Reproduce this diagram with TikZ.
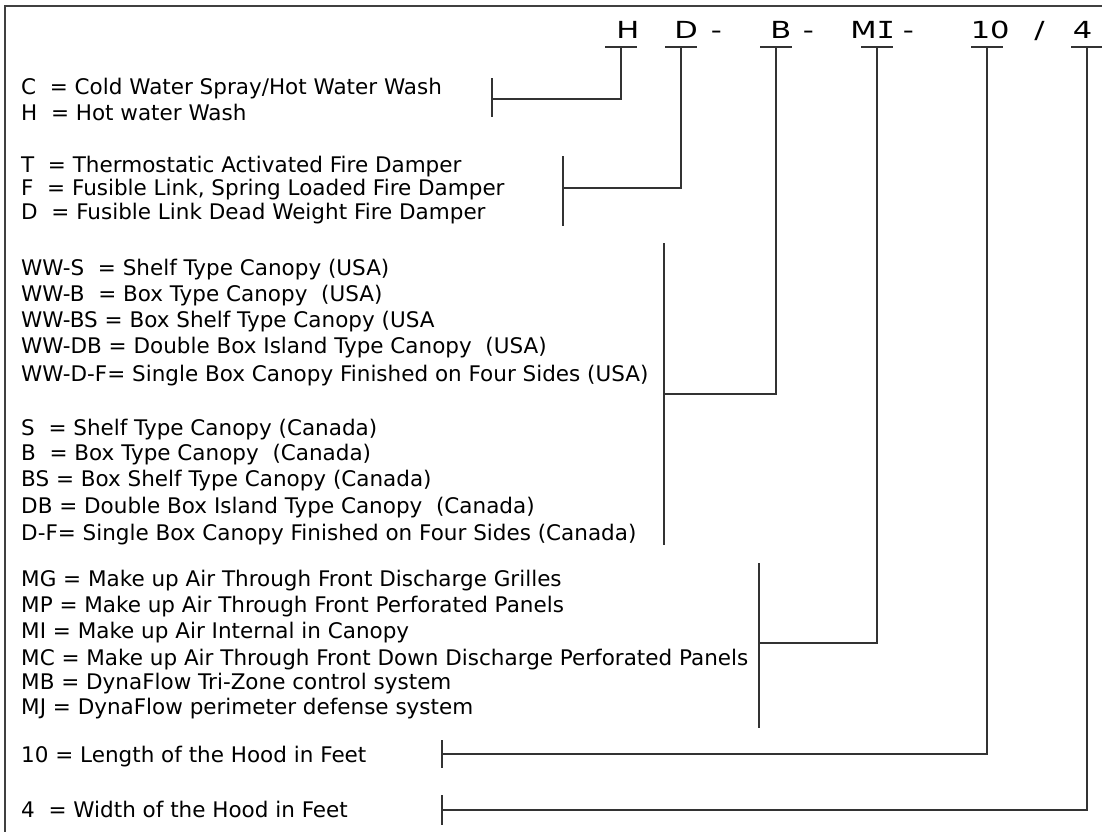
\documentclass[tikz,border=0pt]{standalone}
\usepackage{fontspec}
\setmainfont{DejaVu Sans}
\newfontfamily\dvs{DejaVu Sans}
\newfontfamily\dvm{DejaVu Sans Mono}
\begin{document}
\begin{tikzpicture}[x=1pt,y=-1pt,
  txt/.style={anchor=base west, inner sep=0pt, font=\dvs\fontsize{21.5}{24}\selectfont},
  codech/.style={anchor=base west, inner sep=0pt, xscale=1.3, font=\dvs\fontsize{23.5}{26}\selectfont},
  ln/.style={line width=1.3pt, draw=black!80},
  frm/.style={line width=1.8pt, draw=black!75}]
\useasboundingbox (0,0) rectangle (1102,831);
% frame
\coordinate (fTL) at (5,6);
\coordinate (fTR) at (1110,6);
\coordinate (fBL) at (5,840);
\draw[frm] (fBL) -- (fTL) -- (fTR);
% code characters
\node[codech] (cH)  at (616,38) {H};
\node[codech] (cD)  at (674,38) {D};
\node[codech] (cD2) at (710.5,38) {-};
\node[codech] (cB)  at (770,38) {B};
\node[codech] (cB2) at (802.5,38) {-};
\node[codech] (cMI) at (850,38) {M{\dvm I}};
\node[codech] (cM2) at (902.5,38) {-};
\node[codech] (c10) at (970.5,38) {10};
\node[codech] (cSl) at (1034,38) {/};
\node[codech] (c4)  at (1072.5,38) {4};
% top points of connectors
\coordinate (tH)  at (621,47);
\coordinate (tD)  at (681,47);
\coordinate (tB)  at (776,47);
\coordinate (tMI) at (877,47);
\coordinate (t10) at (987,47);
\coordinate (t4)  at (1087,47);
% bracket midpoints
\coordinate (mH)  at (492,99);
\coordinate (mD)  at (563,188);
\coordinate (mB)  at (664,394);
\coordinate (mMI) at (759,643);
\coordinate (m10) at (442,754);
\coordinate (m4)  at (442,810);
% bracket ends
\coordinate (aH)  at (492,78);  \coordinate (zH)  at (492,117);
\coordinate (aD)  at (563,156); \coordinate (zD)  at (563,226);
\coordinate (aB)  at (664,243); \coordinate (zB)  at (664,545);
\coordinate (aMI) at (759,563); \coordinate (zMI) at (759,728);
\coordinate (a10) at (442,740); \coordinate (z10) at (442,768);
\coordinate (a4)  at (442,795); \coordinate (z4)  at (442,825);
% underlines, leaders and brackets
\foreach \k in {H,D,B,MI,10,4}{
  \draw[ln] ([xshift=-16pt]t\k) -- ([xshift=16pt]t\k);
  \draw[ln] (t\k) |- (m\k);
  \draw[ln] (a\k) -- (z\k);
}
% texts
\node[txt] (l1)  at (21,94)  {C\ \ = Cold Water Spray/Hot Water Wash};
\node[txt] (l2)  at (21,120) {H\ \ = Hot water Wash};
\node[txt] (l3)  at (21,172) {T\ \ = Thermostatic Activated Fire Damper};
\node[txt] (l4)  at (21,195) {F\ \ = Fusible Link, Spring Loaded Fire Damper};
\node[txt] (l5)  at (21,219) {D\ \ = Fusible Link Dead Weight Fire Damper};
\node[txt] (l6)  at (21,275) {WW-S\ \ = Shelf Type Canopy (USA)};
\node[txt] (l7)  at (21,301) {WW-B\ \ = Box Type Canopy\ \ (USA)};
\node[txt] (l8)  at (21,327) {WW-BS = Box Shelf Type Canopy (USA};
\node[txt] (l9)  at (21,353) {WW-DB = Double Box Island Type Canopy\ \ (USA)};
\node[txt] (l10) at (21,381) {WW-D-F= Single Box Canopy Finished on Four Sides (USA)};
\node[txt] (l11) at (21,435) {S\ \ = Shelf Type Canopy (Canada)};
\node[txt] (l12) at (21,460) {B\ \ = Box Type Canopy\ \ (Canada)};
\node[txt] (l13) at (21,486) {BS = Box Shelf Type Canopy (Canada)};
\node[txt] (l14) at (21,513) {DB = Double Box Island Type Canopy\ \ (Canada)};
\node[txt] (l15) at (21,540) {D-F= Single Box Canopy Finished on Four Sides (Canada)};
\node[txt] (l16) at (21,586) {MG = Make up Air Through Front Discharge Grilles};
\node[txt] (l17) at (21,612) {MP = Make up Air Through Front Perforated Panels};
\node[txt] (l18) at (21,638) {MI = Make up Air Internal in Canopy};
\node[txt] (l19) at (21,665) {MC = Make up Air Through Front Down Discharge Perforated Panels};
\node[txt] (l20) at (21,689) {MB = DynaFlow Tri-Zone control system};
\node[txt] (l21) at (21,714) {MJ = DynaFlow perimeter defense system};
\node[txt] (l22) at (21,762) {10 = Length of the Hood in Feet};
\node[txt] (l23) at (21,817) {4\ \ = Width of the Hood in Feet};
\end{tikzpicture}
\end{document}
